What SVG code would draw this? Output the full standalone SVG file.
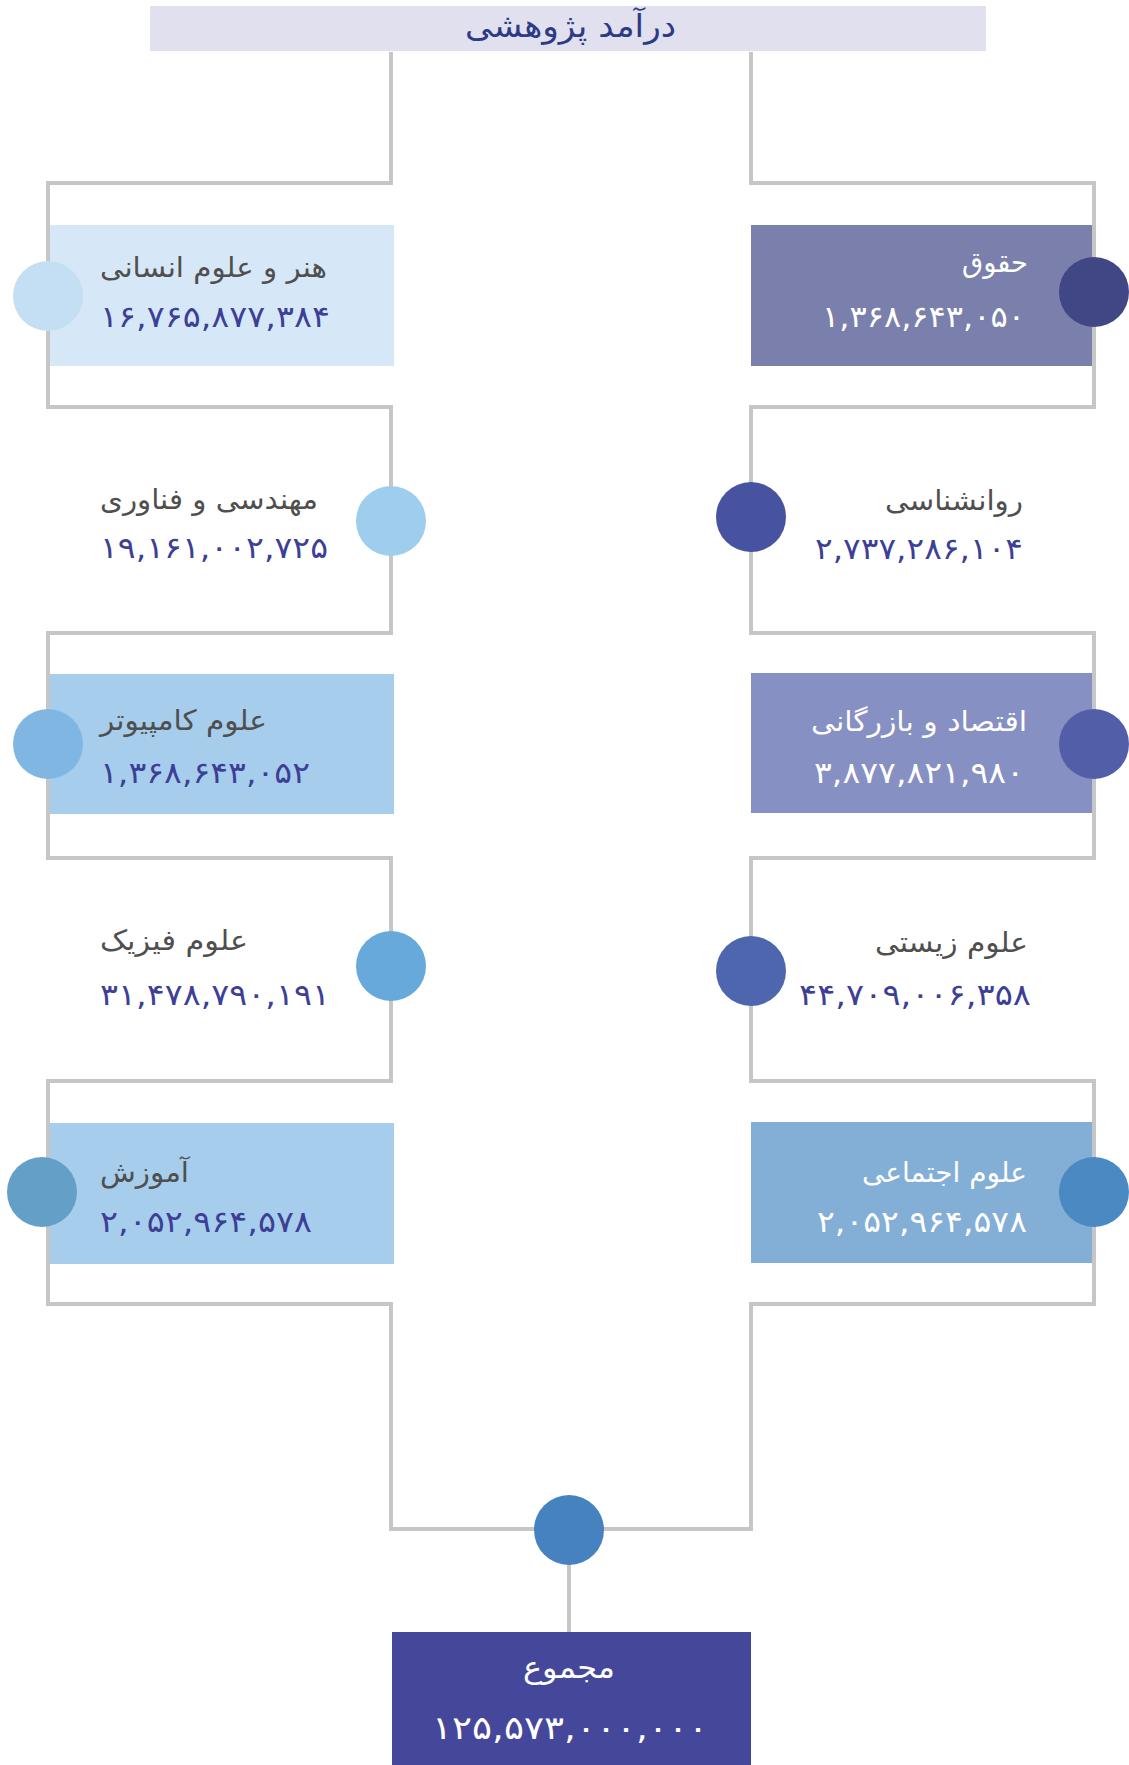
<svg xmlns="http://www.w3.org/2000/svg" width="1129" height="1765" viewBox="0 0 1129 1765">
<style>
  .lbl { font-family: "DejaVu Sans", "Noto Sans", sans-serif; font-size: 28px; fill: #4f4f4f; }
  .num { font-family: "DejaVu Sans", "Noto Sans", sans-serif; font-size: 30px; fill: #3d3f96; }
  .w { fill: #ffffff; }
  .conn { fill: none; stroke: #c6c6c6; stroke-width: 4; }
  .L { text-anchor: start; }
  .R { text-anchor: end; }
</style>
<rect width="1129" height="1765" fill="#ffffff"/>
<g id="connectors">
  <path class="conn" d="M391,52 V183 H48 V407 H391 V633 H48 V858 H391 V1081 H48 V1304 H391 V1529 H569"/>
  <path class="conn" d="M751,52 V183 H1094 V407 H751 V633 H1094 V858 H751 V1081 H1094 V1304 H751 V1529 H569"/>
  <path class="conn" d="M569,1529 V1632"/>
</g>
<g id="title">
  <rect x="150" y="6" width="836" height="45" fill="#e0e0ee"/>
  <text x="465" y="37" textLength="211" lengthAdjust="spacingAndGlyphs" style="font-family:'DejaVu Sans',sans-serif;font-size:32px;fill:#2d3a85">درآمد پژوهشی</text>
</g>
<g id="node-art">
  <rect x="50" y="225" width="344" height="141" fill="#d6e8f7"/>
  <circle cx="48" cy="296" r="35" fill="#c4dff3"/>
  <text class="lbl L" x="100" y="277" textLength="227" lengthAdjust="spacingAndGlyphs">هنر و علوم انسانی</text>
  <text class="num L" x="100" y="327" textLength="230" lengthAdjust="spacingAndGlyphs">۱۶,۷۶۵,۸۷۷,۳۸۴</text>
</g>
<g id="node-law">
  <rect x="751" y="225" width="341" height="141" fill="#7b7fab"/>
  <circle cx="1094" cy="292" r="35" fill="#414785"/>
  <text class="lbl R w" x="1028" y="272" textLength="66" lengthAdjust="spacingAndGlyphs">حقوق</text>
  <text class="num R w" x="1025" y="327" textLength="203" lengthAdjust="spacingAndGlyphs">۱,۳۶۸,۶۴۳,۰۵۰</text>
</g>
<g id="node-eng">
  <circle cx="391" cy="521" r="35" fill="#9fcdee"/>
  <text class="lbl L" x="100" y="509" textLength="218" lengthAdjust="spacingAndGlyphs">مهندسی و فناوری</text>
  <text class="num L" x="100" y="558" textLength="228" lengthAdjust="spacingAndGlyphs">۱۹,۱۶۱,۰۰۲,۷۲۵</text>
</g>
<g id="node-psy">
  <circle cx="751" cy="517" r="35" fill="#4753a1"/>
  <text class="lbl R" x="1023" y="510" textLength="138" lengthAdjust="spacingAndGlyphs">روانشناسی</text>
  <text class="num R" x="1023" y="559" textLength="208" lengthAdjust="spacingAndGlyphs">۲,۷۳۷,۲۸۶,۱۰۴</text>
</g>
<g id="node-cs">
  <rect x="50" y="674" width="344" height="140" fill="#a6cdec"/>
  <circle cx="48" cy="744" r="35" fill="#80b7e2"/>
  <text class="lbl L" x="100" y="730" textLength="167" lengthAdjust="spacingAndGlyphs">علوم کامپیوتر</text>
  <text class="num L" x="100" y="783" textLength="210" lengthAdjust="spacingAndGlyphs">۱,۳۶۸,۶۴۳,۰۵۲</text>
</g>
<g id="node-econ">
  <rect x="751" y="673" width="341" height="140" fill="#8790c3"/>
  <circle cx="1094" cy="744" r="35" fill="#525fa8"/>
  <text class="lbl R w" x="1027" y="731" textLength="216" lengthAdjust="spacingAndGlyphs">اقتصاد و بازرگانی</text>
  <text class="num R w" x="1024" y="783" textLength="210" lengthAdjust="spacingAndGlyphs">۳,۸۷۷,۸۲۱,۹۸۰</text>
</g>
<g id="node-phys">
  <circle cx="391" cy="966" r="35" fill="#67a9db"/>
  <text class="lbl L" x="100" y="950" textLength="148" lengthAdjust="spacingAndGlyphs">علوم فیزیک</text>
  <text class="num L" x="100" y="1005" textLength="230" lengthAdjust="spacingAndGlyphs">۳۱,۴۷۸,۷۹۰,۱۹۱</text>
</g>
<g id="node-bio">
  <circle cx="751" cy="971" r="35" fill="#4e66ae"/>
  <text class="lbl R" x="1028" y="952" textLength="153" lengthAdjust="spacingAndGlyphs">علوم زیستی</text>
  <text class="num R" x="1031" y="1005" textLength="232" lengthAdjust="spacingAndGlyphs">۴۴,۷۰۹,۰۰۶,۳۵۸</text>
</g>
<g id="node-edu">
  <rect x="50" y="1123" width="344" height="141" fill="#a7cdec"/>
  <circle cx="42" cy="1192" r="35" fill="#639fc7"/>
  <text class="lbl L" x="100" y="1182" textLength="89" lengthAdjust="spacingAndGlyphs">آموزش</text>
  <text class="num L" x="100" y="1232" textLength="212" lengthAdjust="spacingAndGlyphs">۲,۰۵۲,۹۶۴,۵۷۸</text>
</g>
<g id="node-soc">
  <rect x="751" y="1122" width="341" height="141" fill="#83aed6"/>
  <circle cx="1094" cy="1192" r="35" fill="#4a89c2"/>
  <text class="lbl R w" x="1027" y="1182" textLength="165" lengthAdjust="spacingAndGlyphs">علوم اجتماعی</text>
  <text class="num R w" x="1027" y="1232" textLength="210" lengthAdjust="spacingAndGlyphs">۲,۰۵۲,۹۶۴,۵۷۸</text>
</g>
<g id="node-total">
  <circle cx="569" cy="1530" r="35" fill="#4682c0"/>
  <rect x="392" y="1632" width="359" height="133" fill="#44479a"/>
  <text class="lbl w" x="523" y="1678" textLength="92" lengthAdjust="spacingAndGlyphs" style="font-size:30px">مجموع</text>
  <text class="num w" x="432" y="1739" textLength="276" lengthAdjust="spacingAndGlyphs" style="font-size:32px">۱۲۵,۵۷۳,۰۰۰,۰۰۰</text>
</g>
</svg>
